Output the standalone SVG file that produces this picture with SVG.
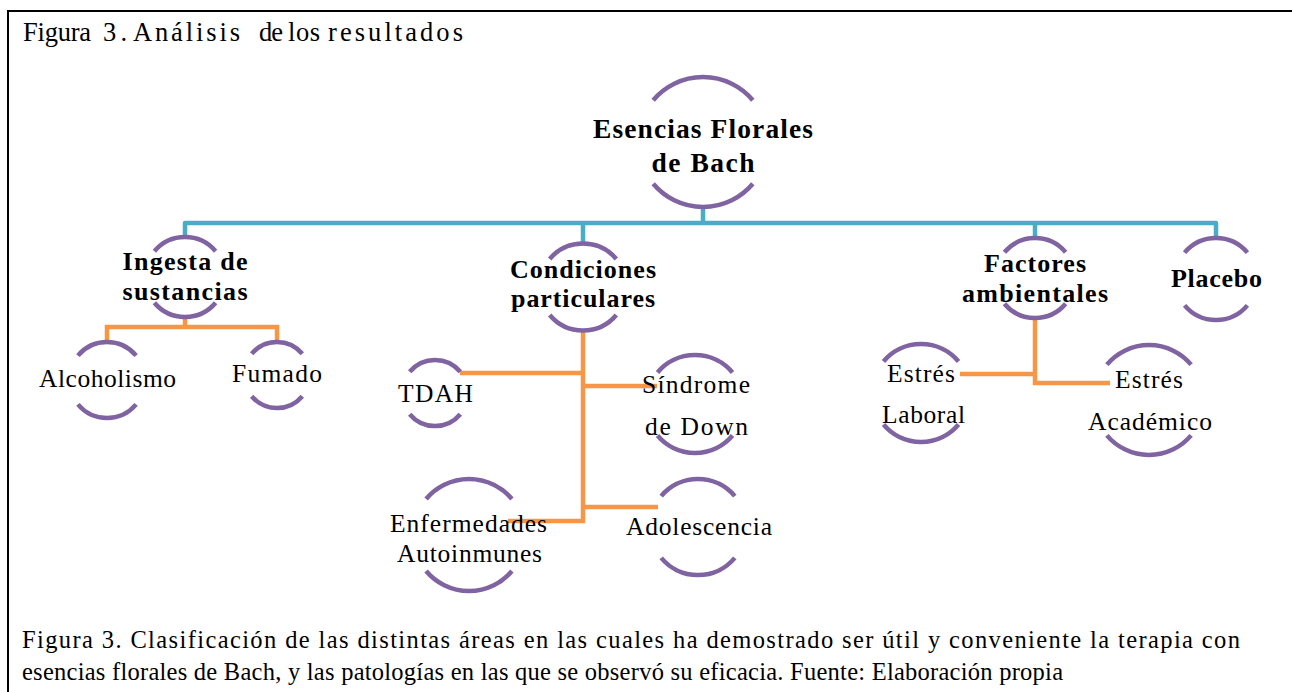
<svg xmlns="http://www.w3.org/2000/svg" width="1292" height="692" viewBox="0 0 1292 692" font-family="'Liberation Serif','Times New Roman',serif">
<style>
.frame{fill:none;stroke:#000;stroke-width:2}
.arc{fill:none;stroke:#8064A2;stroke-width:4.5;stroke-linecap:butt}
.blue{fill:none;stroke:#4BACC6;stroke-width:4.5;stroke-linejoin:round}
.orange{fill:none;stroke:#F79646;stroke-width:4.5;stroke-linejoin:miter}
text{font-family:"Liberation Serif","Times New Roman",serif;fill:#000}
.b{font-weight:bold;font-size:26px;text-anchor:middle}
.r{font-size:25.5px;text-anchor:middle}
.title{font-size:26.5px}
.cap{font-size:24.5px}
</style>
<rect width="1292" height="692" fill="#fff"/>
<path class="frame" d="M8,692 V11 H1292"/>
<g id="title">
  <text class="title" x="23" y="41" textLength="68">Figura</text>
  <text class="title" x="103" y="41" textLength="24">3.</text>
  <text class="title" x="133" y="41" textLength="107">Análisis</text>
  <text class="title" x="259" y="41" textLength="24">de</text>
  <text class="title" x="288" y="41" textLength="32">los</text>
  <text class="title" x="328" y="41" textLength="135">resultados</text>
</g>

<g id="connectors">
  <path class="blue" d="M703,207 V223"/>
  <path class="blue" d="M185,237 V223 H1216 V238"/>
  <path class="blue" d="M583,223 V243"/>
  <path class="blue" d="M1035,223 V238"/>
  <path class="orange" d="M185,317 V327"/>
  <path class="orange" d="M107,342 V327 H277 V342"/>
  <path class="orange" d="M583,330 V521 H508"/>
  <path class="orange" d="M460,373 H583"/>
  <path class="orange" d="M583,386 H657"/>
  <path class="orange" d="M583,507 H658"/>
  <path class="orange" d="M1035,318 V383 H1110"/>
  <path class="orange" d="M960,374 H1035"/>
</g>

<g id="node-root">
  <path class="arc" d="M653.2,100.2 A65,65 0 0 1 752.8,100.2"/>
  <path class="arc" d="M653.2,183.8 A65,65 0 0 0 752.8,183.8"/>
  <text class="b" style="font-size:27.5px" x="703" y="138" textLength="220">Esencias Florales</text>
  <text class="b" style="font-size:27.5px" x="703" y="172" textLength="103">de Bach</text>
</g>
<g id="node-ingesta">
  <path class="arc" d="M154.4,251.3 A40,40 0 0 1 215.6,251.3"/>
  <path class="arc" d="M154.4,302.7 A40,40 0 0 0 215.6,302.7"/>
  <text class="b" x="185" y="270" textLength="125">Ingesta de</text>
  <text class="b" x="185" y="300" textLength="125">sustancias</text>
</g>
<g id="node-condiciones">
  <path class="arc" d="M549.7,259 A43.5,43.5 0 0 1 616.3,259"/>
  <path class="arc" d="M549.7,315 A43.5,43.5 0 0 0 616.3,315"/>
  <text class="b" x="583" y="278" textLength="146">Condiciones</text>
  <text class="b" x="583" y="307" textLength="144">particulares</text>
</g>
<g id="node-factores">
  <path class="arc" d="M1004.4,252.3 A40,40 0 0 1 1065.6,252.3"/>
  <path class="arc" d="M1004.4,303.7 A40,40 0 0 0 1065.6,303.7"/>
  <text class="b" x="1035" y="272" textLength="102">Factores</text>
  <text class="b" x="1035" y="302" textLength="146">ambientales</text>
</g>
<g id="node-placebo">
  <path class="arc" d="M1184.6,252.6 A41,41 0 0 1 1247.4,252.6"/>
  <path class="arc" d="M1184.6,305.4 A41,41 0 0 0 1247.4,305.4"/>
  <text class="b" x="1216.5" y="287" textLength="91">Placebo</text>
</g>
<g id="node-alcoholismo">
  <path class="arc" d="M77.9,355.6 A38,38 0 0 1 136.1,355.6"/>
  <path class="arc" d="M77.9,404.4 A38,38 0 0 0 136.1,404.4"/>
  <text class="r" x="107.5" y="387" textLength="137">Alcoholismo</text>
</g>
<g id="node-fumado">
  <path class="arc" d="M251.7,353.8 A33,33 0 0 1 302.3,353.8"/>
  <path class="arc" d="M251.7,396.2 A33,33 0 0 0 302.3,396.2"/>
  <text class="r" x="277" y="382" textLength="90">Fumado</text>
</g>
<g id="node-tdah">
  <path class="arc" d="M409.7,371.8 A33,33 0 0 1 460.3,371.8"/>
  <path class="arc" d="M409.7,414.2 A33,33 0 0 0 460.3,414.2"/>
  <text class="r" x="435.5" y="402" textLength="75">TDAH</text>
</g>
<g id="node-sindrome">
  <path class="arc" d="M657.5,372.5 A49,49 0 0 1 732.5,372.5"/>
  <path class="arc" d="M657.5,435.5 A49,49 0 0 0 732.5,435.5"/>
  <text class="r" x="696" y="393" textLength="108">Síndrome</text>
  <text class="r" x="696.5" y="435" textLength="103">de Down</text>
</g>
<g id="node-enfermedades">
  <path class="arc" d="M426.1,499 A56,56 0 0 1 511.9,499"/>
  <path class="arc" d="M426.1,571 A56,56 0 0 0 511.9,571"/>
  <text class="r" x="468.5" y="532" textLength="157">Enfermedades</text>
  <text class="r" x="469.5" y="562" textLength="145">Autoinmunes</text>
</g>
<g id="node-adolescencia">
  <path class="arc" d="M661.2,496.1 A48,48 0 0 1 734.8,496.1"/>
  <path class="arc" d="M661.2,557.9 A48,48 0 0 0 734.8,557.9"/>
  <text class="r" x="699" y="535" textLength="146">Adolescencia</text>
</g>
<g id="node-estres-laboral">
  <path class="arc" d="M883.5,361.5 A49,49 0 0 1 958.5,361.5"/>
  <path class="arc" d="M883.5,424.5 A49,49 0 0 0 958.5,424.5"/>
  <text class="r" x="921" y="382" textLength="68">Estrés</text>
  <text class="r" x="923.5" y="423" textLength="83">Laboral</text>
</g>
<g id="node-estres-academico">
  <path class="arc" d="M1106.9,364.6 A55,55 0 0 1 1191.1,364.6"/>
  <path class="arc" d="M1106.9,435.4 A55,55 0 0 0 1191.1,435.4"/>
  <text class="r" x="1149" y="388" textLength="68">Estrés</text>
  <text class="r" x="1150" y="430" textLength="124">Académico</text>
</g>

<g id="caption">
  <text class="cap" x="22" y="648" textLength="1218">Figura 3. Clasificación de las distintas áreas en las cuales ha demostrado ser útil y conveniente la terapia con</text>
  <text class="cap" x="22" y="680" textLength="1041">esencias florales de Bach, y las patologías en las que se observó su eficacia. Fuente: Elaboración propia</text>
</g>
</svg>
